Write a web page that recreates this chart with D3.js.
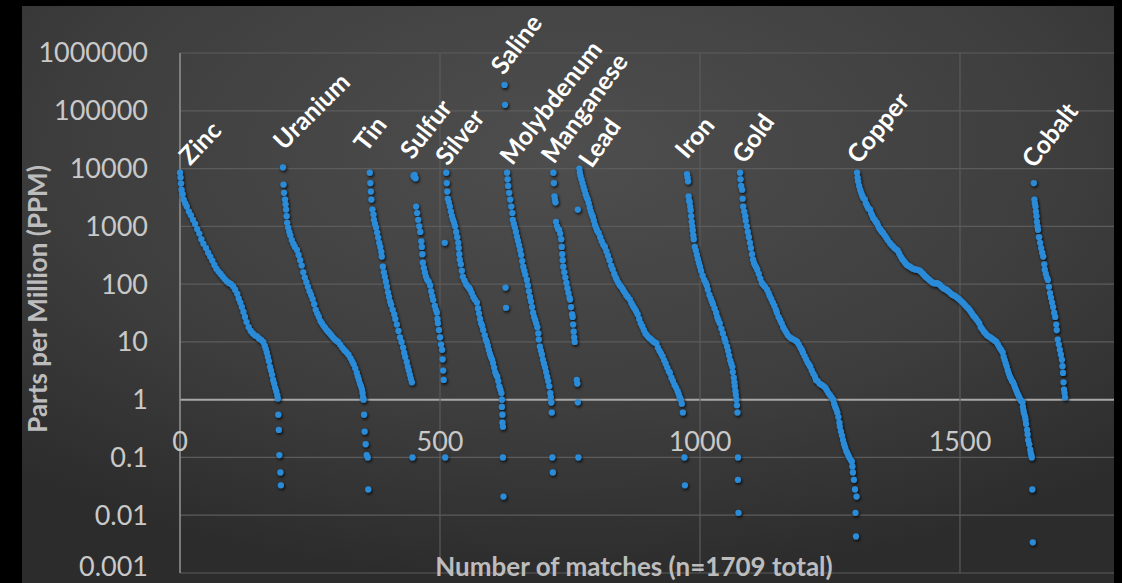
<!DOCTYPE html>
<html>
<head>
<meta charset="utf-8">
<script src="https://d3js.org/d3.v7.min.js"></script>
<style>
  body { margin: 0; background: #000; }
  #main { width: 1122px; height: 583px; }
  text { font-family: Lato, "Open Sans", sans-serif; }
</style>
</head>
<body>
<div id="main"></div>
<script>
// match number (rank) and PPM value
const zinc = [[0,8500],[1,7000],[2,5500],[3,4300],[5,3600],[7,2900],[10,2500],[13,2200],[17,1800],[21,1550],[25,1300],[29,1100],[33,900],[37,750],[41,600],[45,500],[50,420],[54,350],[58,300],[62,255],[66,215],[70,185],[74,165],[78,150],[82,135],[86,122],[90,112],[94,105],[98,100],[102,92],[106,80],[110,68],[113,56],[116,48],[119,40],[122,33],[125,27],[128,22],[132,18],[136,15.5],[140,14],[144,13],[148,12.5],[152,11.5],[156,10.8],[160,10],[163,8.5],[165,7.5],[167,6.5],[169,5.5],[171,4.6],[173,3.7],[175,3.2],[177,2.7],[179,2.2],[181,1.9],[183,1.6],[185,1.4],[187,1.2],[188,1.05],[189,0.55],[190,0.3],[191,0.11],[193,0.055],[194,0.033]]
const uranium = [[198,10500],[199,5300],[200,3800],[202,2900],[203,2400],[204,1950],[205,1500],[206,1150],[208,950],[210,800],[212,700],[215,580],[218,500],[221,440],[225,390],[228,320],[231,260],[234,210],[237,160],[240,130],[243,108],[246,90],[249,75],[252,65],[255,55],[258,45],[261,36],[264,31],[267,27],[270,23],[273,21],[276,19],[279,17.5],[282,16],[285,15],[288,14],[291,13],[294,12],[297,11.2],[300,10.6],[304,10],[308,9],[312,8],[316,7.2],[320,6.6],[324,6],[328,5.2],[331,4.6],[334,4.1],[337,3.5],[340,2.9],[342,2.5],[344,2.2],[346,1.9],[348,1.7],[350,1.5],[351,1.3],[352,1.1],[353,1],[354,0.55],[355,0.28],[357,0.17],[359,0.11],[361,0.1],[362,0.028]]
const tin = [[365,8500],[366,5600],[367,4000],[368,2900],[370,1950],[372,1600],[373,1300],[375,1100],[377,950],[379,780],[381,640],[383,520],[385,440],[387,360],[388,300],[390,200],[392,160],[394,134],[396,110],[398,90],[400,72],[402,60],[404,50],[406,44],[409,36],[412,30],[414,25],[417,20],[420,15.5],[423,12],[426,10],[429,8],[431,6.5],[433,5.5],[436,4.5],[438,3.7],[440,3.2],[442,2.7],[444,2.3],[446,2],[447,0.1]]
const sulfur = [[449,7500],[450,7200],[451,7800],[452,7000],[453,6800],[454,2200],[456,1700],[458,1300],[460,1000],[462,800],[464,550],[465,440],[466,330],[467,235],[469,190],[471,158],[473,135],[475,120],[478,110],[481,95],[483,75],[485,62],[487,53],[490,42],[492,36],[494,32],[495,25],[496,21],[498,16],[500,12],[502,9],[504,7.3],[505,5],[506,3.2],[507,2.2],[509,520],[510,0.1]]
const silver = [[512,8500],[513,5600],[514,4000],[515,3000],[517,2600],[519,2200],[521,1800],[523,1500],[525,1300],[527,1150],[529,1000],[531,800],[533,650],[535,520],[536,420],[537,330],[538,265],[540,220],[542,170],[544,134],[547,115],[550,100],[553,92],[556,86],[558,80],[561,70],[564,60],[567,54],[571,48],[573,38],[575,31],[577,25],[579,21],[581,19],[583,16],[586,13],[588,11],[590,10],[592,8.5],[594,7.2],[596,6.2],[598,5.5],[600,5],[602,4.3],[604,3.6],[606,3],[608,2.7],[610,2.5],[612,2.1],[614,1.7],[616,1.5],[618,1.3],[619,1],[619,0.75],[620,0.55],[620,0.4],[621,0.34],[621,0.1],[622,0.021]]
const saline = [[624,280000],[625,127000],[626,87],[627,39]]
const molybdenum = [[629,8500],[630,6500],[631,5000],[633,3800],[635,2900],[637,2200],[639,1700],[640,1300],[642,1100],[644,950],[646,800],[648,660],[650,560],[652,470],[654,390],[656,320],[658,250],[660,200],[662,170],[664,145],[667,118],[669,95],[671,75],[673,60],[675,50],[677,40],[679,32],[681,27],[683,24],[685,21],[687,18],[689,14],[690,11],[692,8.3],[694,7],[696,6],[698,4.9],[700,4.2],[702,3.6],[704,3],[706,2.5],[708,2.1],[710,1.7],[712,1.3],[713,1.1],[714,0.89],[715,0.6],[716,0.1],[717,0.055]]
const manganese = [[718,8500],[719,5600],[720,3300],[721,2900],[722,2600],[723,1200],[725,1000],[727,900],[729,870],[731,750],[733,600],[734,440],[735,330],[736,260],[737,200],[739,160],[741,130],[743,105],[745,85],[747,70],[749,58],[750,54],[752,40],[754,30],[755,27],[756,20],[757,15],[758,12],[759,10],[763,2.2],[764,1.9],[765,1950],[765,0.9],[766,0.1]]
const lead = [[768,10000],[769,8500],[770,7500],[772,6500],[774,5600],[776,4800],[778,4200],[780,3600],[782,3200],[784,2900],[786,2500],[788,2100],[790,1800],[792,1600],[794,1450],[796,1250],[798,1050],[800,950],[802,850],[805,770],[808,650],[811,550],[814,480],[817,440],[820,370],[823,310],[826,260],[829,210],[832,180],[835,150],[838,130],[840,118],[843,105],[846,95],[849,88],[852,80],[855,72],[858,65],[861,60],[865,54],[868,47],[871,42],[874,38],[877,34],[880,30],[883,25],[886,21],[889,18.5],[892,16],[895,14],[898,13],[901,12],[904,11.5],[907,10.8],[910,10.2],[913,9.8],[916,9.5],[919,8],[922,7],[925,6.3],[928,5.6],[931,4.8],[934,4.2],[937,3.6],[940,3.1],[942,2.9],[945,2.4],[948,2.1],[951,1.8],[954,1.6],[957,1.4],[959,1.25],[961,1.1],[963,1],[965,0.85],[967,0.6],[970,0.1],[971,0.033]]
const iron = [[975,8000],[976,7000],[977,6000],[978,3300],[979,2800],[980,2600],[981,2200],[982,1900],[983,1500],[984,1200],[985,1000],[986,850],[987,700],[988,600],[990,440],[992,380],[994,320],[996,270],[998,230],[1000,200],[1002,170],[1005,140],[1008,118],[1011,105],[1013,95],[1015,80],[1018,65],[1021,56],[1023,50],[1025,45],[1028,38],[1031,32],[1033,27],[1035,24],[1038,21],[1041,17],[1044,14],[1047,11.5],[1049,10],[1052,8.3],[1054,7],[1056,5.8],[1058,4.8],[1060,4.2],[1062,3.7],[1063,3],[1065,2.4],[1066,2],[1067,1.7],[1068,1.4],[1069,1.2],[1070,1],[1071,0.8],[1072,0.6],[1073,0.1],[1073,0.041],[1074,0.011]]
const gold = [[1077,8500],[1078,6500],[1079,5000],[1081,4300],[1082,3000],[1083,2200],[1085,1800],[1087,1500],[1088,1250],[1090,1000],[1092,800],[1094,650],[1096,520],[1098,420],[1100,330],[1102,265],[1104,230],[1106,210],[1108,195],[1110,178],[1113,150],[1116,125],[1119,105],[1122,97],[1125,90],[1129,80],[1132,70],[1134,62],[1137,55],[1140,48],[1143,42],[1146,36],[1148,32],[1151,27],[1154,24],[1157,21],[1160,18],[1163,16],[1166,14.5],[1169,13],[1173,12],[1176,11.5],[1180,11],[1184,10.5],[1187,10],[1190,9],[1193,8],[1196,7.2],[1198,6.5],[1201,5.7],[1204,5],[1207,4.4],[1210,4],[1212,3.7],[1215,3.2],[1218,2.8],[1221,2.5],[1223,2.2],[1226,2.1],[1230,1.9],[1234,1.8],[1238,1.7],[1241,1.6],[1244,1.45],[1247,1.3],[1250,1.2],[1253,1.1],[1256,1],[1258,0.85],[1260,0.75],[1262,0.68],[1264,0.6],[1266,0.5],[1268,0.4],[1269,0.34],[1271,0.28],[1273,0.24],[1275,0.2],[1277,0.17],[1279,0.15],[1281,0.13],[1283,0.12],[1285,0.11],[1287,0.1],[1290,0.09],[1292,0.085],[1293,0.07],[1294,0.055],[1296,0.041],[1298,0.028],[1301,0.021],[1299,0.011],[1300,0.0043]]
const copper = [[1302,8500],[1303,7000],[1304,6000],[1306,5000],[1308,4300],[1310,3800],[1312,3400],[1314,3100],[1317,2900],[1319,2500],[1321,2300],[1323,2100],[1325,2000],[1327,1950],[1329,1700],[1331,1550],[1333,1400],[1336,1300],[1338,1200],[1340,1150],[1342,1050],[1344,950],[1346,900],[1348,850],[1350,800],[1352,770],[1355,700],[1358,640],[1361,580],[1365,520],[1368,480],[1371,450],[1374,420],[1377,400],[1380,380],[1383,340],[1386,300],[1389,270],[1392,250],[1395,230],[1398,215],[1401,205],[1404,200],[1407,190],[1410,185],[1413,180],[1417,178],[1420,175],[1423,170],[1426,160],[1429,150],[1432,140],[1435,132],[1438,125],[1441,118],[1444,112],[1447,107],[1450,104],[1453,103],[1456,104],[1459,100],[1462,96],[1465,90],[1468,85],[1471,82],[1474,80],[1477,76],[1480,72],[1483,68],[1486,65],[1489,63],[1492,61],[1495,58],[1498,55],[1501,52],[1504,49],[1507,46],[1510,43],[1513,40],[1516,38],[1519,35],[1522,32],[1525,29],[1528,27],[1531,25],[1534,23],[1537,21],[1540,18],[1543,16.5],[1546,15],[1549,14],[1552,13],[1555,12.5],[1558,12],[1561,11.5],[1564,11],[1567,10.5],[1570,10],[1573,9],[1576,8],[1579,7.3],[1582,6.6],[1584,5.5],[1586,4.8],[1588,4.2],[1590,3.7],[1592,3.2],[1594,2.8],[1596,2.5],[1598,2.3],[1600,2.1],[1602,2],[1604,1.8],[1606,1.6],[1608,1.45],[1610,1.3],[1612,1.2],[1614,1.1],[1616,1],[1618,0.95],[1620,0.9],[1621,0.75],[1622,0.65],[1623,0.58],[1625,0.51],[1626,0.45],[1627,0.38],[1629,0.3],[1630,0.25],[1631,0.2],[1633,0.17],[1635,0.137],[1636,0.12],[1637,0.11],[1638,0.1],[1639,0.028],[1640,0.0034]]
const cobalt = [[1642,5600],[1643,2900],[1644,2500],[1645,2200],[1646,1800],[1647,1500],[1648,1200],[1649,1000],[1650,870],[1652,650],[1654,520],[1656,420],[1658,350],[1660,300],[1662,220],[1663,178],[1665,150],[1667,130],[1669,118],[1671,90],[1673,70],[1675,58],[1677,48],[1679,40],[1681,32],[1683,27],[1685,20],[1686,16],[1688,11],[1690,9],[1692,7.3],[1694,6],[1696,4.9],[1697,3.8],[1698,2.9],[1699,2],[1700,1.5],[1701,1.3],[1702,1.1]]

// element labels, anchored in data units (match number, ppm)
const labelNames = ['Zinc','Uranium','Tin','Sulfur','Silver','Saline','Molybdenum','Manganese','Lead','Iron','Gold','Copper','Cobalt']
const labelX = [19, 200, 358, 447, 515, 622, 639, 719, 792, 975, 1087, 1306, 1643]
const labelY = [11000, 20000, 18600, 13800, 10700, 400000, 11000, 11500, 9700, 14000, 11500, 11500, 9700]
const labelAngle = [-46, -45, -52, -52, -52, -53, -52, -54, -55, -50, -55, -51, -52]

const xTicks = [0, 500, 1000, 1500]
const yTicks = [0.001, 0.01, 0.1, 1, 10, 100, 1000, 10000, 100000, 1000000]
const yTickLabels = ['0.001', '0.01', '0.1', '1', '10', '100', '1000', '10000', '100000', '1000000']

const allPoints = [zinc, uranium, tin, sulfur, silver, saline, molybdenum, manganese,
                   lead, iron, gold, copper, cobalt].flat()

const w = 1122
const h = 583

let svg = d3.select('#main')
        .append('svg')
        .attr('width', w)
        .attr('height', h)

// background gradient + dot shadow
const defs = svg.append('defs')
const grad = defs.append('radialGradient')
        .attr('id', 'bg')
        .attr('cx', '50%').attr('cy', '25%').attr('r', '75%')
grad.append('stop').attr('offset', '0%').attr('stop-color', '#4e4e4e')
grad.append('stop').attr('offset', '60%').attr('stop-color', '#3e3e3e')
grad.append('stop').attr('offset', '100%').attr('stop-color', '#2c2c2c')

const shadow = defs.append('filter').attr('id', 'shadow')
        .attr('x', '-10%').attr('y', '-10%').attr('width', '120%').attr('height', '120%')
shadow.append('feDropShadow')
        .attr('dx', 1).attr('dy', 1.5).attr('stdDeviation', 1.8)
        .attr('flood-color', '#000').attr('flood-opacity', 0.9)

svg.append('rect')
    .attr('x', 22).attr('y', 6)
    .attr('width', 1092).attr('height', h - 6)
    .attr('fill', 'url(#bg)')

// scales
const xScale = d3.scaleLinear()
        .domain([0, 1800])
        .range([180, 1116])

const yScale = d3.scaleLog()
        .domain([0.001, 1000000])
        .range([573, 53])

// grid
svg.append('g')
    .selectAll('line')
    .data(yTicks)
    .enter()
    .append('line')
    .attr('x1', xScale(0)).attr('x2', 1114)
    .attr('y1', d => yScale(d)).attr('y2', d => yScale(d))
    .attr('stroke', d => d === 1 ? '#a8a8a8' : '#5c5c5c')
    .attr('stroke-width', d => d === 1 ? 2 : 1.2)

svg.append('g')
    .selectAll('line')
    .data(xTicks)
    .enter()
    .append('line')
    .attr('x1', d => xScale(d)).attr('x2', d => xScale(d))
    .attr('y1', yScale(1000000)).attr('y2', yScale(0.001))
    .attr('stroke', d => d === 0 ? '#8e8e8e' : '#5c5c5c')
    .attr('stroke-width', d => d === 0 ? 1.6 : 1.2)

// y tick labels (the lowest one nudged up so it is not cut by the edge)
svg.append('g')
    .selectAll('text')
    .data(yTicks)
    .enter()
    .append('text')
    .attr('x', 148)
    .attr('y', d => d === 0.001 ? yScale(d) - 6 : yScale(d))
    .attr('dy', '0.35em')
    .attr('text-anchor', 'end')
    .attr('fill', '#c9c9c9')
    .attr('font-size', 27)
    .text((d, i) => yTickLabels[i])

// x tick labels, hanging under the axis at 1 ppm
svg.append('g')
    .selectAll('text')
    .data(xTicks)
    .enter()
    .append('text')
    .attr('x', d => xScale(d))
    .attr('y', yScale(1) + 51)
    .attr('text-anchor', 'middle')
    .attr('fill', '#c9c9c9')
    .attr('font-size', 27)
    .text(d => d)

// points
svg.append('g')
    .attr('filter', 'url(#shadow)')
    .selectAll('circle')
    .data(allPoints)
    .enter()
    .append('circle')
    .attr('cx', d => xScale(d[0]))
    .attr('cy', d => yScale(d[1]))
    .attr('r', 3.1)
    .attr('fill', '#2a8bd8')

// element labels
svg.append('g')
    .selectAll('text')
    .data(labelNames)
    .enter()
    .append('text')
    .attr('transform', (d, i) => 'translate(' + xScale(labelX[i]) + ',' + yScale(labelY[i]) + ') rotate(' + labelAngle[i] + ')')
    .attr('fill', '#fff')
    .attr('font-size', 25)
    .attr('font-weight', 'bold')
    .text(d => d)

// axis titles
svg.append('text')
    .attr('transform', 'translate(47,299) rotate(-90)')
    .attr('text-anchor', 'middle')
    .attr('fill', '#bdbdbd')
    .attr('font-size', 26)
    .attr('font-weight', 'bold')
    .text('Parts per Million (PPM)')

svg.append('text')
    .attr('x', 634)
    .attr('y', 576)
    .attr('text-anchor', 'middle')
    .attr('fill', '#bdbdbd')
    .attr('font-size', 26)
    .attr('font-weight', 'bold')
    .text('Number of matches (n=1709 total)')
</script>
</body>
</html>
